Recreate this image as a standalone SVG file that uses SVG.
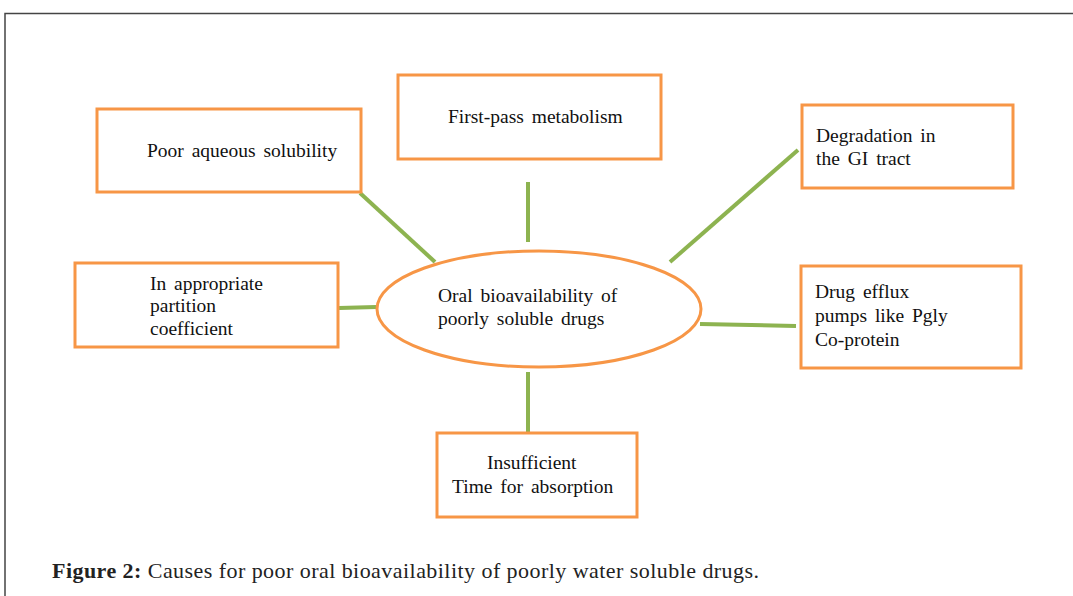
<svg xmlns="http://www.w3.org/2000/svg" width="1073" height="596" viewBox="0 0 1073 596">
<style>
.box{fill:#fff;stroke:#f79646;stroke-width:3}
.t{font-family:"Liberation Serif","Times New Roman",serif;font-size:19.5px;word-spacing:3px;fill:#111}
.c{stroke:#8db350;stroke-width:4;fill:none}
.cap{font-family:"Liberation Serif","Times New Roman",serif;font-size:22px;fill:#222}
</style>
<rect x="0" y="0" width="1073" height="596" fill="#fff"/>
<path d="M5,596 V13.5 H1073" fill="none" stroke="#444" stroke-width="1.5"/>
<g id="connectors">
<line class="c" x1="360" y1="193" x2="435" y2="262"/>
<line class="c" x1="339" y1="308" x2="376" y2="307"/>
<line class="c" x1="528" y1="182" x2="528" y2="242"/>
<line class="c" x1="798" y1="150" x2="670" y2="262"/>
<line class="c" x1="700" y1="324" x2="796" y2="326"/>
<line class="c" x1="528" y1="372" x2="528" y2="432"/>
</g>
<g id="center">
<ellipse class="box" cx="539" cy="309" rx="162" ry="58"/>
<text class="t"><tspan x="438" y="302">Oral bioavailability  of</tspan><tspan x="438" y="325">poorly soluble drugs</tspan></text>
</g>
<g id="poor-aqueous">
<rect class="box" x="97" y="109" width="264" height="83"/>
<text class="t" x="147" y="157">Poor aqueous solubility</text>
</g>
<g id="first-pass">
<rect class="box" x="398" y="75" width="263" height="84"/>
<text class="t" x="448" y="123">First-pass metabolism</text>
</g>
<g id="degradation">
<rect class="box" x="802" y="105" width="211" height="83"/>
<text class="t"><tspan x="816" y="142">Degradation in</tspan><tspan x="816" y="165">the GI tract</tspan></text>
</g>
<g id="partition">
<rect class="box" x="75" y="263" width="263" height="84"/>
<text class="t"><tspan x="150" y="290">In appropriate</tspan><tspan x="150" y="312">partition</tspan><tspan x="150" y="335">coefficient</tspan></text>
</g>
<g id="efflux">
<rect class="box" x="801" y="266" width="220" height="102"/>
<text class="t"><tspan x="815" y="298">Drug efflux</tspan><tspan x="815" y="322">pumps like Pgly</tspan><tspan x="815" y="346">Co-protein</tspan></text>
</g>
<g id="insufficient">
<rect class="box" x="437" y="433" width="200" height="84"/>
<text class="t"><tspan x="487" y="469">Insufficient</tspan><tspan x="452" y="493">Time for absorption</tspan></text>
</g>
<text class="cap" x="52" y="578" textLength="707" lengthAdjust="spacing"><tspan font-weight="bold">Figure 2:</tspan> Causes for poor oral bioavailability of poorly water soluble drugs.</text>
</svg>
